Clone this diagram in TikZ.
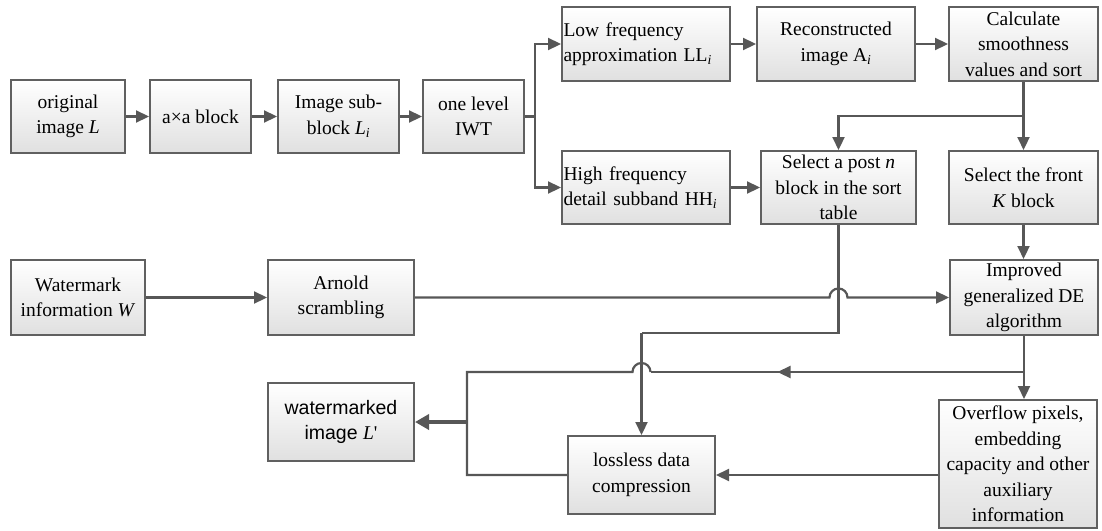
\documentclass[tikz,border=0pt]{standalone}
\usepackage{fontspec}
\setmainfont{Liberation Serif}
\newfontfamily\arialfont{Liberation Sans}
\usetikzlibrary{arrows.meta,decorations.markings}
\definecolor{linegray}{HTML}{575757}
\definecolor{boxline}{HTML}{606060}
\definecolor{boxbot}{HTML}{E0E0E0}
\begin{document}
\begin{tikzpicture}[x=1pt,y=-1pt,
  blk/.style={draw=boxline, line width=2pt, top color=white, bottom color=boxbot,
    align=center, inner sep=0pt, font=\fontsize{19.5}{25.5}\selectfont},
  lblk/.style={blk, align=left, inner xsep=1.5pt},
  conn/.style={draw=linegray, line width=2.2pt},
  arr/.style={conn, -{Triangle[length=13pt,width=12pt]}},
  midarr/.style={conn, postaction={decorate},
    decoration={markings, mark=at position #1 with {\arrow{Triangle[length=13pt,width=12pt]}}}},
  thickarr/.style={draw=linegray, line width=4pt, -{Triangle[length=14pt,width=15pt]}},
]
\useasboundingbox (0,0) rectangle (1102,530);

% row left
\node[blk, minimum width=114pt, minimum height=73pt] (orig) at (68,116.5) {original\\image \textit{L}};
\node[blk, minimum width=101pt, minimum height=73pt] (axa) at (200.5,116.5) {a×a block};
\node[blk, minimum width=121pt, minimum height=73pt] (sub) at (338.5,116.5) {Image sub-\\block \textit{L}\textsubscript{\textit{i}}};
\node[blk, minimum width=101pt, minimum height=73pt] (iwt) at (473.5,116.5) {one level\\IWT};

% top row
\node[lblk, text width=165pt, minimum height=74pt] (low) at (646,44) {Low frequency\\approximation LL\textsubscript{\textit{i}}};
\node[blk, minimum width=158pt, minimum height=74pt] (rec) at (836,44) {Reconstructed\\image A\textsubscript{\textit{i}}};
\node[blk, minimum width=149pt, minimum height=74pt] (calc) at (1023.5,44) {Calculate\\smoothness\\values and sort};

% second row
\node[lblk, text width=165pt, minimum height=73pt] (high) at (646,187.5) {High frequency\\detail subband HH\textsubscript{\textit{i}}};
\node[blk, minimum width=155pt, minimum height=73pt] (post) at (838.5,187.5) {Select a post \textit{n}\\block in the sort\\table};
\node[blk, minimum width=149pt, minimum height=73pt] (front) at (1023.5,187.5) {Select the front\\\textit{K} block};

% watermark row
\node[blk, minimum width=134pt, minimum height=75pt] (wm) at (78,297.5) {Watermark\\information \textit{W}};
\node[blk, minimum width=146pt, minimum height=75pt] (arn) at (341,297.5) {Arnold\\scrambling};
\node[blk, minimum width=148pt, minimum height=75pt] (de) at (1024,297.5) {Improved\\generalized DE\\algorithm};

% bottom
\node[blk, minimum width=146pt, minimum height=78pt] (wmd) at (341,422) {\arialfont watermarked\\\arialfont image \textrm{\textit{L}\textquotesingle}};
\node[blk, minimum width=147pt, minimum height=78pt] (loss) at (641.5,475) {lossless data\\compression};
\node[blk, minimum width=158pt, minimum height=128pt] (ovf) at (1018,464) {Overflow pixels,\\embedding\\capacity and other\\auxiliary\\information};

% coordinates
\coordinate (br) at (535,116.5);
\coordinate (j1) at (1023.5,116);
\coordinate (h1) at (829.5,297.5);
\coordinate (c2) at (641.5,333);
\coordinate (j2) at (1024,372);
\coordinate (h2) at (650.5,372);
\coordinate (m1) at (467,372);
\coordinate (m2) at (467,475);
\coordinate (j3) at (467,422);

% connectors
\draw[arr] (orig) -- (axa);
\draw[arr] (axa) -- (sub);
\draw[arr] (sub) -- (iwt);
\draw[conn] (iwt.east) -- (br);
\draw[arr] (br) |- (low.west);
\draw[arr] (br) |- (high.west);
\draw[arr] (low) -- (rec);
\draw[arr] (rec) -- (calc);
\draw[arr] (high) -- (post);
\draw[arr] (calc.south) -- (front.north);
\draw[arr] (j1) -| (post.north);
\draw[arr] (front.south) -- (front.south |- de.north);
\draw[arr] (wm) -- (arn);
\draw[arr] (arn.east) -- (h1) arc[start angle=180, end angle=0, radius=9pt] -- (de.west);
\draw[conn] (post.south) |- (c2);
\draw[arr] (c2) -- (loss.north);
\draw[arr] (de.south) -- (de.south |- ovf.north);
\draw[midarr=0.66] (j2) -- (h2);
\draw[conn] (h2) arc[start angle=0, end angle=180, radius=9pt] -- (m1) -- (m2) -- (loss.west);
\draw[arr] (ovf.west |- loss.east) -- (loss.east);
\draw[thickarr] (j3) -- (wmd.east);
\end{tikzpicture}
\end{document}
